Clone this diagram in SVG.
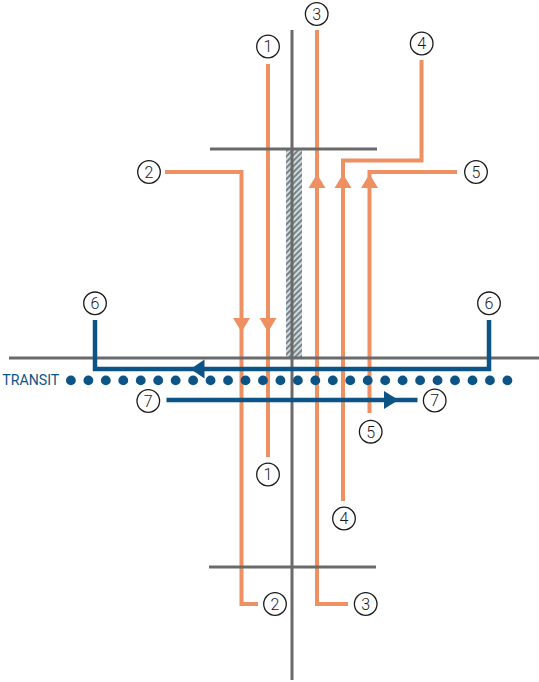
<svg xmlns="http://www.w3.org/2000/svg" width="539" height="682" viewBox="0 0 539 682">
<style>
.gray{stroke:#6a6a6a;stroke-width:3;fill:none}
.or{stroke:#ee9062;stroke-width:4;fill:none}
.orh{fill:#ee9062}
.bl{stroke:#0d5486;stroke-width:4.5;fill:none}
.blh{fill:#0d5486}
.c circle{fill:#fff;stroke:#1a1a1a;stroke-width:1.3}
.c text{font-family:Roboto,"Liberation Sans",sans-serif;font-weight:300;font-size:16px;fill:#1a1a1a;text-anchor:middle}
.dot{fill:#0d5486}
</style>
<defs>
<pattern id="hatch" width="4" height="4" patternUnits="userSpaceOnUse" patternTransform="rotate(45)">
<rect width="4" height="4" fill="#dfe3e4"/>
<rect width="2.2" height="4" fill="#74858b"/>
</pattern>
<path id="ad" d="M-8.5,-14 L8.5,-14 L0,0 Z"/>
<path id="au" d="M-8.5,14 L8.5,14 L0,0 Z"/>
</defs>
<rect id="wall" x="286" y="150" width="16" height="207" fill="url(#hatch)"/>
<g id="connectors">
<polyline class="or" points="268,64 268,457"/>
<polyline class="or" points="165,172 241.5,172 241.5,604 258,604"/>
<polyline class="or" points="317,30 317,604 348,604"/>
<polyline class="or" points="421.5,60 421.5,160.5 343,160.5 343,501"/>
<polyline class="or" points="457,172 369.5,172 369.5,413"/>
<use href="#ad" x="241.5" y="332" class="orh"/>
<use href="#ad" x="268" y="332" class="orh"/>
<use href="#au" x="317" y="174" class="orh"/>
<use href="#au" x="343" y="174" class="orh"/>
<use href="#au" x="369.5" y="174" class="orh"/>
</g>
<g id="structure">
<line class="gray" x1="292" y1="30" x2="292" y2="680"/>
<line class="gray" x1="210" y1="149" x2="377" y2="149"/>
<line class="gray" x1="209" y1="567" x2="376" y2="567"/>
<line class="gray" x1="9" y1="358" x2="539" y2="358"/>
</g>
<g id="transit-flows">
<polyline class="bl" points="95,320 95,369 489,369 489,320"/>
<path class="blh" d="M190.5,369 L204.5,359.5 L204.5,378.5 Z"/>
<line class="bl" x1="166.5" y1="400" x2="417.5" y2="400"/>
<path class="blh" d="M398.5,400 L384,391 L384,409 Z"/>
</g>
<g id="transit">
<text x="2.3" y="385" font-family="Roboto,'Liberation Sans',sans-serif" font-size="15" fill="#0d5486" textLength="57" lengthAdjust="spacingAndGlyphs">TRANSIT</text>
<g class="dot">
<circle cx="70.9" cy="380.4" r="4.9"/><circle cx="88.36" cy="380.4" r="4.9"/><circle cx="105.82" cy="380.4" r="4.9"/><circle cx="123.28" cy="380.4" r="4.9"/><circle cx="140.74" cy="380.4" r="4.9"/><circle cx="158.2" cy="380.4" r="4.9"/><circle cx="175.66" cy="380.4" r="4.9"/><circle cx="193.12" cy="380.4" r="4.9"/><circle cx="210.58" cy="380.4" r="4.9"/><circle cx="228.04" cy="380.4" r="4.9"/><circle cx="245.5" cy="380.4" r="4.9"/><circle cx="262.96" cy="380.4" r="4.9"/><circle cx="280.42" cy="380.4" r="4.9"/><circle cx="297.88" cy="380.4" r="4.9"/><circle cx="315.34" cy="380.4" r="4.9"/><circle cx="332.8" cy="380.4" r="4.9"/><circle cx="350.26" cy="380.4" r="4.9"/><circle cx="367.72" cy="380.4" r="4.9"/><circle cx="385.18" cy="380.4" r="4.9"/><circle cx="402.64" cy="380.4" r="4.9"/><circle cx="420.1" cy="380.4" r="4.9"/><circle cx="437.56" cy="380.4" r="4.9"/><circle cx="455.02" cy="380.4" r="4.9"/><circle cx="472.48" cy="380.4" r="4.9"/><circle cx="489.94" cy="380.4" r="4.9"/><circle cx="507.4" cy="380.4" r="4.9"/>
</g>
</g>
<g id="n1a" class="c"><circle cx="268" cy="46.5" r="11.3"/><text x="268" y="52.3">1</text></g>
<g id="n1b" class="c"><circle cx="268" cy="474.5" r="11.3"/><text x="268" y="480.3">1</text></g>
<g id="n2a" class="c"><circle cx="149" cy="172" r="11.3"/><text x="149" y="177.8">2</text></g>
<g id="n2b" class="c"><circle cx="275" cy="604" r="11.3"/><text x="275" y="609.8">2</text></g>
<g id="n3a" class="c"><circle cx="316.7" cy="14" r="11.3"/><text x="316.7" y="19.8">3</text></g>
<g id="n3b" class="c"><circle cx="365.7" cy="604" r="11.3"/><text x="365.7" y="609.8">3</text></g>
<g id="n4a" class="c"><circle cx="421.7" cy="43.5" r="11.3"/><text x="421.7" y="49.3">4</text></g>
<g id="n4b" class="c"><circle cx="344" cy="518.5" r="11.3"/><text x="344" y="524.3">4</text></g>
<g id="n5a" class="c"><circle cx="476" cy="172" r="11.3"/><text x="476" y="177.8">5</text></g>
<g id="n5b" class="c"><circle cx="370.7" cy="431.7" r="11.3"/><text x="370.7" y="437.5">5</text></g>
<g id="n6a" class="c"><circle cx="95" cy="303.3" r="11.3"/><text x="95" y="309.1">6</text></g>
<g id="n6b" class="c"><circle cx="489" cy="303.3" r="11.3"/><text x="489" y="309.1">6</text></g>
<g id="n7a" class="c"><circle cx="148.3" cy="401" r="11.3"/><text x="148.3" y="406.8">7</text></g>
<g id="n7b" class="c"><circle cx="434.7" cy="400.5" r="11.3"/><text x="434.7" y="406.3">7</text></g>
</svg>
